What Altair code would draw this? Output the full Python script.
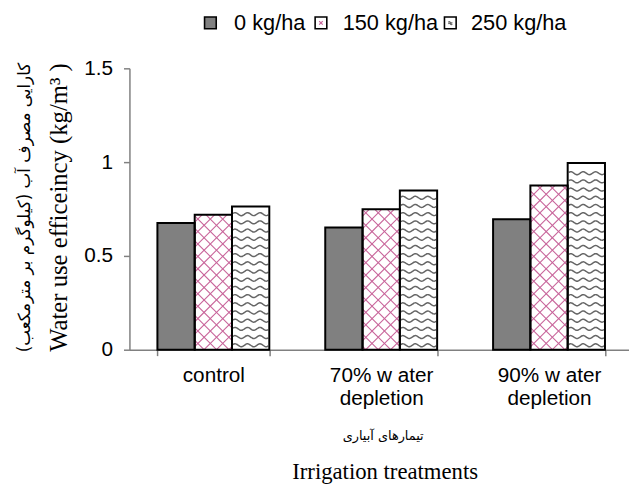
import math
import altair as alt
import pandas as pd

# ---- data ----
categories = ["control", "70% w ater|depletion", "90% w ater|depletion"]
series = ["0 kg/ha", "150 kg/ha", "250 kg/ha"]
wue_0 = [0.675, 0.651, 0.696]
wue_150 = [0.720, 0.749, 0.875]
wue_250 = [0.763, 0.849, 0.995]
y_ticks = [0, 0.5, 1, 1.5]

rows = []
for i, c in enumerate(categories):
    for s, vals in zip(series, [wue_0, wue_150, wue_250]):
        rows.append({"cat": c, "series": s, "value": vals[i]})
df = pd.DataFrame(rows)

# ---- layout constants ----
PLOT_W = 510.0
PLOT_H = 285.0
Y_MAX = 1.5
PAD_IN = 1 / 3
PAD_OUT = 1 / 6
STEP_PX = PLOT_W / len(categories)
BAR_PX = STEP_PX * (1 - PAD_IN) / len(series)
PX_PER_Y = PLOT_H / Y_MAX


def bar_box(ci, sj, value):
    """pixel box of a bar: (left, right, height)"""
    left = ci * STEP_PX + PAD_OUT * STEP_PX + sj * BAR_PX
    return left, left + BAR_PX, value * PX_PER_Y


# ---- fill patterns (decoration built from the bars above) ----
HATCH_P = 12.6      # px between parallel hatch lines (horizontally)
WAVE_GAP = 8.3      # px between wave rows
WAVE_PER = BAR_PX / 3
WAVE_AMP = 1.5

hatch = []
waves = []
for ci in range(len(categories)):
    # cross hatch on the 150 kg/ha bars
    xl, xr, H = bar_box(ci, 1, wue_150[ci])
    k0 = math.floor((xl - H) / HATCH_P) - 1
    k1 = math.ceil((xr + H) / HATCH_P) + 1
    for k in range(k0, k1 + 1):
        c = k * HATCH_P
        # X - Y = c
        a, b = max(xl, c), min(xr, H + c)
        if b - a > 0.3:
            hatch.append({"x": a / STEP_PX, "x2": b / STEP_PX,
                          "y": (a - c) / PX_PER_Y, "y2": (b - c) / PX_PER_Y})
        # X + Y = c
        a, b = max(xl, c - H), min(xr, c)
        if b - a > 0.3:
            hatch.append({"x": a / STEP_PX, "x2": b / STEP_PX,
                          "y": (c - a) / PX_PER_Y, "y2": (c - b) / PX_PER_Y})
    # waves on the 250 kg/ha bars
    xl, xr, H = bar_box(ci, 2, wue_250[ci])
    r = 0
    yrow = 4.5
    while yrow < H - WAVE_AMP - 1.5:
        n = int(round(BAR_PX))
        for t in range(n + 1):
            X = xl + 1.0 + (BAR_PX - 2.0) * t / n
            Y = yrow + WAVE_AMP * math.sin(2 * math.pi * (X - xl) / WAVE_PER)
            waves.append({"row": f"{ci}-{r}", "x": X / STEP_PX, "y": Y / PX_PER_Y, "o": t})
        r += 1
        yrow += WAVE_GAP

hatch_df = pd.DataFrame(hatch)
wave_df = pd.DataFrame(waves)

PINK = "#c8649a"
WAVEGRAY = "#666666"
AXISGRAY = "#808080"
SANS = "Liberation Sans"
SERIF = "Liberation Serif"

xscale = alt.Scale(domain=categories, range=[0, PLOT_W], paddingInner=PAD_IN, paddingOuter=PAD_OUT)
xaxis = alt.Axis(title=None, tickBand="extent", labelExpr="split(datum.label, '|')",
                 labelFont=SANS, labelFontSize=21, labelColor="black", labelAngle=0,
                 labelLineHeight=24, labelPadding=9, tickSize=6, tickColor=AXISGRAY,
                 domainColor=AXISGRAY, domainWidth=1.5, tickWidth=1.5)
yaxis = alt.Axis(title=None, values=y_ticks, format="~g", grid=False, labelFont=SANS,
                 labelFontSize=21, labelColor="black", labelPadding=11, tickSize=6,
                 tickColor=AXISGRAY, domainColor=AXISGRAY, domainWidth=1.5, tickWidth=1.5)
yscale = alt.Scale(domain=[0, Y_MAX], nice=False)
qscale = alt.Scale(domain=[0, len(categories)], range=[0, PLOT_W], nice=False, zero=False)

X = alt.X("cat:N", sort=categories, scale=xscale, axis=xaxis)
X_noaxis = alt.X("cat:N", sort=categories, scale=xscale, axis=None)
XO = alt.XOffset("series:N", sort=series, scale=alt.Scale(domain=series, paddingInner=0, paddingOuter=0))

fill_layer = alt.Chart(df).mark_bar(strokeWidth=0).encode(
    x=X, xOffset=XO,
    y=alt.Y("value:Q", scale=yscale, axis=yaxis),
    fill=alt.Fill("series:N", scale=alt.Scale(domain=series, range=["#808080", "#ffffff", "#ffffff"]),
                  legend=None),
)

hatch_layer = alt.Chart(hatch_df).mark_rule(color=PINK, strokeWidth=1.1).encode(
    x=alt.X("x:Q", scale=qscale, axis=None), x2="x2:Q",
    y=alt.Y("y:Q", scale=yscale), y2="y2:Q")

wave_layer = alt.Chart(wave_df).mark_line(color=WAVEGRAY, strokeWidth=1.5, interpolate="monotone").encode(
    x=alt.X("x:Q", scale=qscale, axis=None),
    y=alt.Y("y:Q", scale=yscale),
    detail="row:N", order="o:Q")

outline_layer = alt.Chart(df).mark_bar(fillOpacity=0, stroke="black", strokeWidth=2).encode(
    x=X_noaxis, xOffset=XO, y=alt.Y("value:Q", scale=yscale))

layers = [fill_layer, hatch_layer, wave_layer, outline_layer]

# ---- legend (drawn by hand, above the plot) ----
one = pd.DataFrame({"k": [0]})
leg_sym_x = [82, 194, 325]
leg_txt_x = [106, 216, 346]
leg_y = -46
leg_fill = ["#808080", "#ffffff", "#ffffff"]
for i, s in enumerate(series):
    layers.append(alt.Chart(one).mark_point(shape="square", size=140, filled=True, fill=leg_fill[i],
                                            stroke="black", strokeWidth=1.6, opacity=1).encode(
        x=alt.value(leg_sym_x[i]), y=alt.value(leg_y)))
    layers.append(alt.Chart(pd.DataFrame({"t": [s]})).mark_text(
        font=SANS, fontSize=22, align="left", baseline="middle", color="black").encode(
        text="t:N", x=alt.value(leg_txt_x[i]), y=alt.value(leg_y)))
layers.append(alt.Chart(one).mark_point(shape="M-0.9,-0.9L0.9,0.9M-0.9,0.9L0.9,-0.9", size=16,
                                        filled=False, stroke=PINK, strokeWidth=1.2, opacity=1).encode(
    x=alt.value(leg_sym_x[1]), y=alt.value(leg_y)))
layers.append(alt.Chart(one).mark_point(shape="M-1,-0.3 Q-0.5,-1 0,-0.3 T1,-0.3 M-1,0.5 Q-0.5,-0.2 0,0.5 T1,0.5",
                                        size=16, filled=False, stroke=WAVEGRAY, strokeWidth=1.1,
                                        opacity=1).encode(
    x=alt.value(leg_sym_x[2]), y=alt.value(leg_y)))

# ---- titles ----
titles = [
    ("Water use efficeincy (kg/m³ )", SERIF, 25, 270, -71, 141),
    ("کارایی مصرف آب (کیلوگرم بر مترمکعب)", "DejaVu Sans", 17, 270, -106, 141),
    ("تیمارهای آبیاری", "DejaVu Sans", 13, 0, 257, 372),
    ("Irrigation treatments", SERIF, 23, 0, 259, 409),
]
for t, f, fs, ang, tx, ty in titles:
    layers.append(alt.Chart(pd.DataFrame({"t": [t]})).mark_text(
        font=f, fontSize=fs, angle=ang, align="center", baseline="middle", color="black").encode(
        text="t:N", x=alt.value(tx), y=alt.value(ty)))

chart = alt.layer(*layers).resolve_scale(x="independent").properties(
    width=506, height=285,
    autosize=alt.AutoSizeParams(type="none"),
    padding={"left": 123, "top": 58, "right": 0, "bottom": 140},
    background="white",
).configure_view(strokeWidth=0)

chart.save("out.html", embed_options={"renderer": "svg", "actions": False})
